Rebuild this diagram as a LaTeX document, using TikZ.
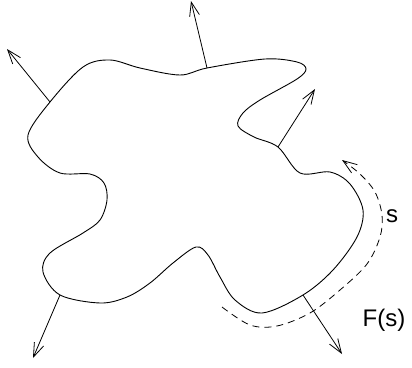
\documentclass[tikz,border=0pt]{standalone}
\usepackage{fontspec}
\setmainfont{Liberation Sans}
\usetikzlibrary{arrows.meta}

\begin{document}
\begin{tikzpicture}[x=1pt, y=-1pt,
    boundary/.style={line width=0.9pt},
    normal/.style={line width=0.8pt, -{Straight Barb[length=14pt, width=10pt]}},
    arclen/.style={line width=0.8pt, dash pattern=on 7pt off 5pt, -{Straight Barb[length=14pt, width=10pt]}},
    lbl/.style={font=\fontsize{24}{28}\selectfont, inner sep=0pt}]
    \useasboundingbox (0,0) rectangle (412,367);

    % Points on the boundary where the normals start
    \coordinate (b1) at (50,102);
    \coordinate (b2) at (207,68);
    \coordinate (b3) at (278,147);
    \coordinate (b4) at (303,295);
    \coordinate (b5) at (60,295);

    % Tips of the normals
    \coordinate (t1) at (7,49);
    \coordinate (t2) at (191,1);
    \coordinate (t3) at (315,89);
    \coordinate (t4) at (342,354);
    \coordinate (t5) at (33,358);

    % Closed boundary curve
    \draw[boundary] plot[smooth cycle, tension=0.55] coordinates {
        (b1) (83,67) (110,60) (140,68) (180,75) (b2) (265,59) (297,62)
        (306,69) (297,79) (260,100) (243,113) (238,126) (254,137) (b3)
        (300,173) (330,172) (350,184) (363,210) (357,237)
        (333,270) (b4) (262,313) (235,300) (220,277)
        (208,255) (196,247) (173,263) (150,283) (127,297) (100,303)
        (b5) (43,272) (50,253) (83,233) (100,220) (107,200)
        (104,183) (90,174) (60,173) (38,157) (28,135)};

    % Normals
    \draw[normal] (b1) -- (t1);
    \draw[normal] (b2) -- (t2);
    \draw[normal] (b3) -- (t3);
    \draw[normal] (b4) -- (t4);
    \draw[normal] (b5) -- (t5);

    % Arc length along the boundary
    \coordinate (s0) at (222,307);
    \coordinate (s1) at (342,160);
    \draw[arclen] plot[smooth, tension=0.55] coordinates {
        (s0) (250,325) (277,326) (310,313) (340,290) (367,264) (380,237)
        (382,215) (375,192) (360,174) (s1)};

    % Labels
    \node[lbl] (s) at (392,216) {s};
    \node[lbl] (F) at (384,320) {F(s)};
\end{tikzpicture}
\end{document}
